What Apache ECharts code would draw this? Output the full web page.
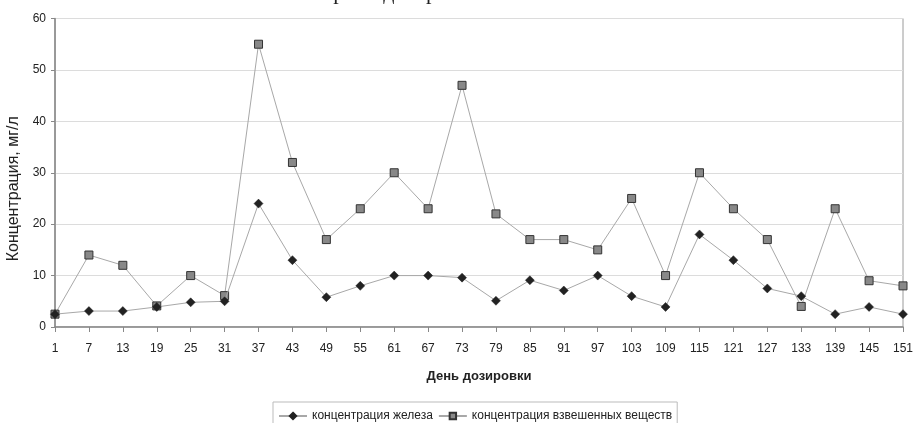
<!DOCTYPE html>
<html>
<head>
<meta charset="utf-8">
<script src="https://cdn.jsdelivr.net/npm/echarts@6/dist/echarts.min.js"></script>
<style>
  html, body { margin: 0; padding: 0; background: #fff; }
  #chart { width: 916px; height: 423px; }
</style>
</head>
<body>
<div id="chart"></div>
<script>
// Дни дозировки (шаг 6 суток)
const days = ['1','7','13','19','25','31','37','43','49','55','61','67','73','79','85','91','97','103','109','115','121','127','133','139','145','151'];
// Концентрация железа, мг/л
const iron = [2.5, 3.1, 3.1, 3.9, 4.8, 5.0, 24, 13, 5.8, 8.0, 10, 10, 9.6, 5.1, 9.1, 7.1, 10, 6.0, 3.9, 18, 13, 7.5, 6.0, 2.5, 3.9, 2.5];
// Концентрация взвешенных веществ, мг/л
const suspended = [2.5, 14, 12, 4.1, 10, 6.1, 55, 32, 17, 23, 30, 23, 47, 22, 17, 17, 15, 25, 10, 30, 23, 17, 4, 23, 9, 8];
const yTicks = { min: 0, max: 60, step: 10 };

const chart = echarts.init(document.getElementById('chart'), null, { renderer: 'canvas' });
const sans = 'Liberation Sans, Arial, sans-serif';

chart.setOption({
  animation: false,
  backgroundColor: '#ffffff',
  graphic: [{
    type: 'text',
    x: 410,
    y: 4,
    style: {
      text: 'Сроки дозирования',
      font: '22px "Liberation Serif", "DejaVu Serif", serif',
      fill: '#222',
      textAlign: 'center',
      textVerticalAlign: 'bottom'
    }
  }],
  grid: {
    left: 55, right: 13, top: 18.5, bottom: 96,
    outerBoundsMode: 'none',
    show: true, borderColor: '#9a9a9a', borderWidth: 1
  },
  legend: {
    top: 402,
    left: 273,
    itemWidth: 28,
    itemHeight: 8,
    itemGap: 5,
    borderColor: '#bbb',
    borderWidth: 1,
    padding: [8, 5, 6, 5],
    textStyle: { fontFamily: sans, fontSize: 12, color: '#222' },
    data: ['концентрация железа', 'концентрация взвешенных веществ']
  },
  xAxis: {
    type: 'category',
    data: days,
    boundaryGap: false,
    name: 'День дозировки',
    nameLocation: 'middle',
    nameGap: 43,
    nameTextStyle: { fontFamily: sans, fontSize: 13, fontWeight: 'bold', color: '#222' },
    axisLine: { lineStyle: { color: '#888', width: 1.5 } },
    axisTick: { show: true, length: 5, lineStyle: { color: '#888' } },
    axisLabel: { interval: 0, margin: 16, fontFamily: sans, fontSize: 12, color: '#222' },
    splitLine: { show: false }
  },
  yAxis: {
    type: 'value',
    min: yTicks.min,
    max: yTicks.max,
    interval: yTicks.step,
    name: 'Концентрация, мг/л',
    nameLocation: 'middle',
    nameGap: 33,
    nameTextStyle: { fontFamily: sans, fontSize: 16, color: '#222', padding: [0, 32, 0, 0] },
    axisLine: { show: true, lineStyle: { color: '#888', width: 1.5 } },
    axisTick: { show: true, length: 4, lineStyle: { color: '#888' } },
    axisLabel: { margin: 9, fontFamily: sans, fontSize: 12, color: '#222' },
    splitLine: { lineStyle: { color: '#dcdcdc', width: 1 } }
  },
  series: [
    {
      name: 'концентрация железа',
      type: 'line',
      data: iron,
      symbol: 'diamond',
      symbolSize: 9,
      lineStyle: { color: '#a8a8a8', width: 1 },
      itemStyle: { color: '#222', borderColor: '#222', borderWidth: 0.5 },
      z: 3
    },
    {
      name: 'концентрация взвешенных веществ',
      type: 'line',
      data: suspended,
      symbol: 'rect',
      symbolSize: 8,
      lineStyle: { color: '#a8a8a8', width: 1 },
      itemStyle: { color: '#888', borderColor: '#333', borderWidth: 1 },
      z: 2
    }
  ]
});
</script>
</body>
</html>
